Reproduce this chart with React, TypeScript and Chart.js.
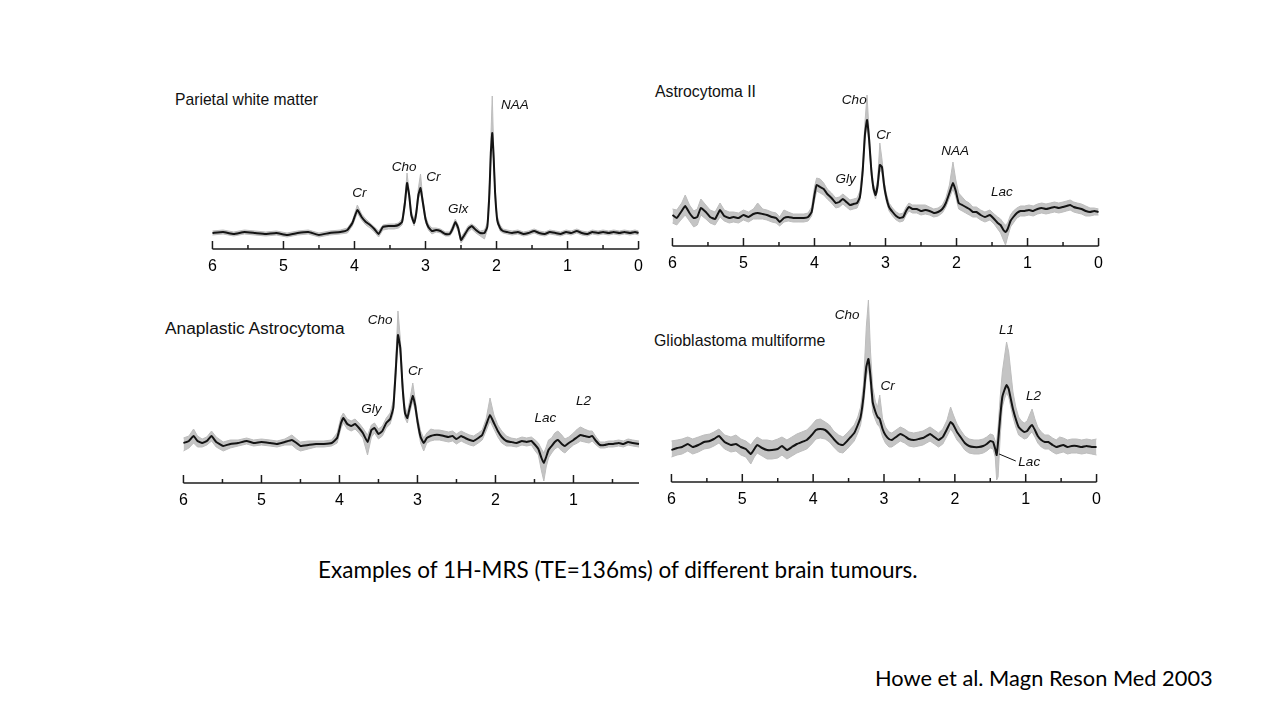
import React, { useEffect, useRef } from "react";
import { Chart, registerables } from "chart.js";

Chart.register(...registerables);

// ---------- shared axis ticks (ppm) ----------
const majorTicks = [6, 5, 4, 3, 2, 1, 0];
const minorTicks = [5.5, 4.5, 3.5, 2.5, 1.5, 0.5];

// ---------- Panel 1: Parietal white matter ----------
const pwmPpm = [6.0, 5.85, 5.7, 5.55, 5.4, 5.25, 5.1, 4.95, 4.8, 4.65, 4.5, 4.35, 4.2, 4.1, 4.03, 3.96, 3.9, 3.84, 3.78, 3.72, 3.66, 3.6, 3.52, 3.44, 3.38, 3.33, 3.29, 3.26, 3.23, 3.2, 3.16, 3.13, 3.1, 3.07, 3.04, 3.0, 2.96, 2.91, 2.85, 2.79, 2.72, 2.66, 2.62, 2.58, 2.54, 2.5, 2.46, 2.4, 2.35, 2.29, 2.23, 2.17, 2.13, 2.1, 2.08, 2.06, 2.04, 2.02, 1.99, 1.95, 1.91, 1.85, 1.78, 1.7, 1.62, 1.55, 1.47, 1.4, 1.32, 1.25, 1.17, 1.1, 1.02, 0.95, 0.87, 0.8, 0.72, 0.65, 0.57, 0.5, 0.42, 0.35, 0.27, 0.2, 0.12, 0.05, 0.0];
const pwmLine = [0, 1, -1, 1, 0, -1, 0, -2, 0, 1, -2, 0, 1, 3, 10, 23, 16, 11, 8, 4, -1, 6, 7, 7, 8, 11, 30, 50, 38, 18, 10, 20, 38, 45, 32, 14, 6, 2, 3, 2, -1, -1, 4, 11, 5, -7, -3, 4, 7, 3, 0, 0, 6, 40, 80, 100, 75, 40, 13, 5, 2, 1, 0, 1, -1, 0, 2, 0, -1, 1, 0, -1, 1, 0, 2, 0, -1, 1, 0, 1, 0, 1, 0, 1, 0, 1, 0];
const pwmHi = [2, 3, 1, 3, 2, 1, 2, 0, 2, 3, 0, 2, 3, 5, 12, 28, 19, 14, 10, 6, 2, 8, 9, 9, 10, 14, 34, 60, 42, 22, 13, 24, 45, 59, 36, 17, 9, 5, 5, 4, 1, 1, 7, 14, 8, -4, 0, 7, 9, 6, 2, 3, 10, 50, 95, 137, 85, 46, 17, 8, 4, 3, 2, 3, 1, 2, 4, 2, 1, 3, 2, 1, 3, 2, 4, 2, 1, 3, 2, 3, 2, 3, 2, 3, 2, 3, 2];
const pwmLo = [-2, -1, -3, -1, -2, -3, -2, -4, -2, -1, -4, -2, -1, 0, 7, 20, 13, 8, 5, 1, -4, 3, 4, 4, 5, 8, 26, 46, 34, 15, 7, 17, 34, 41, 28, 11, 3, -1, 1, 0, -3, -3, 1, 8, 2, -10, -6, 1, 4, 0, -3, -6, 3, 35, 75, 96, 70, 36, 10, 2, 0, -1, -2, -1, -3, -2, 0, -2, -3, -1, -2, -3, -1, -2, 0, -2, -3, -1, -2, -1, -2, -1, -2, -1, -2, -1, -2];
const pwmLabels = ["Cr", "Cho", "Cr", "Glx", "NAA"];
const pwmLabelPpm = [3.93, 3.3, 2.89, 2.54, 1.74];
const pwmLabelY = [40, 66, 56, 24, 128];

// ---------- Panel 2: Astrocytoma II ----------
const a2Ppm = [6.0, 5.94, 5.87, 5.82, 5.76, 5.7, 5.65, 5.6, 5.53, 5.47, 5.4, 5.33, 5.27, 5.2, 5.14, 5.07, 5.0, 4.93, 4.86, 4.8, 4.73, 4.67, 4.6, 4.54, 4.49, 4.43, 4.37, 4.3, 4.22, 4.15, 4.09, 4.04, 4.0, 3.97, 3.92, 3.87, 3.82, 3.76, 3.7, 3.65, 3.6, 3.55, 3.5, 3.45, 3.4, 3.36, 3.32, 3.29, 3.26, 3.23, 3.2, 3.17, 3.14, 3.11, 3.08, 3.05, 3.02, 2.99, 2.95, 2.9, 2.85, 2.8, 2.75, 2.71, 2.67, 2.62, 2.56, 2.5, 2.44, 2.38, 2.32, 2.26, 2.2, 2.15, 2.1, 2.05, 2.01, 1.97, 1.92, 1.87, 1.82, 1.77, 1.72, 1.66, 1.6, 1.53, 1.47, 1.42, 1.38, 1.34, 1.31, 1.28, 1.24, 1.2, 1.15, 1.1, 1.04, 0.98, 0.92, 0.86, 0.8, 0.74, 0.68, 0.62, 0.56, 0.5, 0.45, 0.4, 0.35, 0.3, 0.24, 0.18, 0.12, 0.06, 0.0];
const a2Line = [0, -3, 4, 9, 2, -3, -2, 7, 3, -2, -4, 5, -1, -3, -2, -3, 0, -2, 1, 2, 1, 0, -2, -3, -7, -3, -2, -3, -3, -3, -2, 3, 20, 30, 28, 26, 21, 17, 12, 13, 16, 13, 10, 11, 12, 18, 45, 80, 95, 75, 45, 27, 20, 30, 50, 48, 30, 18, 8, 3, -1, -3, -2, 4, 8, 6, 6, 4, 5, 4, 2, 3, 6, 12, 22, 32, 24, 12, 10, 8, 6, 3, 3, 0, -2, 0, -4, -8, -10, -15, -17, -14, -6, -2, 2, 4, 4, 5, 4, 6, 7, 6, 7, 8, 7, 8, 9, 10, 8, 7, 6, 4, 3, 4, 3];
const a2Hi = [6, 5, 12, 20, 10, 4, 6, 16, 10, 5, 3, 12, 5, 3, 3, 2, 5, 3, 6, 12, 6, 5, 3, 2, -2, 5, 3, 1, 1, 1, 2, 8, 28, 37, 36, 32, 26, 22, 17, 18, 21, 18, 15, 16, 17, 24, 52, 92, 120, 82, 50, 31, 24, 36, 72, 56, 35, 22, 12, 7, 3, 1, 2, 8, 12, 10, 10, 10, 10, 8, 6, 7, 10, 17, 30, 53, 35, 22, 18, 14, 12, 8, 8, 5, 3, 5, 1, -2, -4, -8, -10, -8, 0, 4, 7, 9, 9, 10, 9, 11, 12, 11, 12, 13, 12, 13, 14, 15, 13, 12, 11, 9, 7, 7, 6];
const a2Lo = [-8, -10, -4, 0, -6, -12, -10, 0, -4, -8, -10, -2, -6, -8, -7, -8, -5, -7, -4, -4, -4, -5, -7, -8, -11, -7, -6, -7, -7, -7, -6, -1, 14, 24, 22, 20, 16, 12, 7, 8, 11, 8, 5, 6, 7, 14, 40, 75, 90, 70, 40, 23, 16, 26, 45, 42, 25, 14, 4, -1, -5, -7, -6, 0, 4, 2, 2, 0, 1, 0, -2, -1, 2, 8, 17, 26, 18, 6, 4, 2, 0, -2, -2, -5, -7, -5, -9, -14, -18, -25, -30, -22, -12, -8, -3, -1, -1, 0, -1, 1, 2, 1, 2, 3, 2, 3, 4, 5, 3, 2, 1, -1, -1, 0, 0];
const a2Labels = ["Cho", "Cr", "Gly", "NAA", "Lac"];
const a2LabelPpm = [3.44, 3.03, 3.56, 2.02, 1.36];
const a2LabelY = [115, 80, 36, 64, 23];

// ---------- Panel 3: Anaplastic Astrocytoma ----------
const aaPpm = [6.0, 5.93, 5.87, 5.82, 5.76, 5.7, 5.64, 5.58, 5.49, 5.4, 5.3, 5.19, 5.1, 5.0, 4.89, 4.8, 4.7, 4.61, 4.55, 4.5, 4.4, 4.3, 4.2, 4.1, 4.03, 3.98, 3.95, 3.9, 3.85, 3.8, 3.75, 3.7, 3.64, 3.59, 3.55, 3.5, 3.45, 3.4, 3.35, 3.31, 3.28, 3.25, 3.22, 3.19, 3.16, 3.13, 3.1, 3.06, 3.03, 3.0, 2.96, 2.92, 2.88, 2.83, 2.78, 2.72, 2.66, 2.6, 2.55, 2.5, 2.44, 2.39, 2.33, 2.28, 2.22, 2.17, 2.12, 2.07, 2.02, 1.97, 1.92, 1.86, 1.8, 1.73, 1.66, 1.6, 1.54, 1.49, 1.45, 1.41, 1.38, 1.35, 1.32, 1.28, 1.24, 1.2, 1.15, 1.11, 1.06, 1.0, 0.95, 0.91, 0.86, 0.8, 0.76, 0.71, 0.66, 0.6, 0.55, 0.49, 0.42, 0.36, 0.3, 0.24, 0.16];
const aaLine = [0, 2, 7, 2, 0, 2, 7, 1, -3, -1, 0, 2, 0, 1, 0, -1, 1, 3, 0, -3, -2, -1, -1, 0, 5, 20, 25, 19, 17, 19, 15, 10, 1, 13, 15, 9, 12, 20, 24, 35, 70, 108, 95, 55, 30, 25, 35, 47, 38, 22, 6, 0, 5, 7, 8, 8, 7, 6, 7, 4, 7, 5, 3, 2, 5, 8, 18, 28, 20, 12, 6, 2, 1, 0, 2, 1, 2, -2, -6, -15, -20, -14, -7, -3, 1, 3, -1, -3, 0, 3, 6, 8, 7, 6, 7, 2, -2, -2, -1, -1, 0, -1, 1, 0, -1];
const aaHi = [5, 7, 14, 7, 4, 6, 12, 6, 1, 3, 3, 5, 3, 4, 3, 2, 4, 8, 4, 1, 2, 2, 2, 3, 10, 26, 30, 24, 22, 24, 20, 15, 8, 18, 20, 14, 17, 25, 30, 42, 80, 132, 105, 62, 36, 30, 42, 60, 44, 27, 12, 5, 10, 14, 13, 13, 12, 11, 12, 9, 12, 10, 8, 7, 10, 13, 24, 45, 28, 18, 12, 7, 5, 4, 6, 5, 6, 3, 0, -6, -10, -4, 3, 5, 10, 12, 8, 4, 6, 10, 14, 16, 14, 12, 12, 6, 1, 1, 2, 2, 3, 2, 4, 3, 2];
const aaLo = [-8, -5, 0, -4, -4, -2, 2, -4, -8, -5, -3, -1, -3, -2, -3, -4, -2, -2, -6, -8, -6, -4, -4, -3, 0, 15, 20, 14, 12, 14, 10, 5, -12, 6, 10, 4, 7, 15, 19, 30, 65, 102, 88, 50, 25, 20, 30, 42, 33, 17, 0, -8, 0, 2, 3, 3, 2, 1, 2, -1, 2, 0, -2, -3, 0, 3, 12, 22, 14, 6, 0, -3, -3, -4, -2, -3, -2, -8, -12, -28, -38, -24, -15, -10, -6, -4, -8, -10, -6, -2, 0, 2, 1, 0, 2, -2, -5, -5, -4, -4, -3, -4, -2, -3, -4];
const aaLabels = ["Cho", "Cr", "Gly", "Lac", "L2"];
const aaLabelPpm = [3.48, 3.03, 3.59, 1.36, 0.87];
const aaLabelY = [123, 72, 34, 25, 42];

// ---------- Panel 4: Glioblastoma multiforme ----------
const gbmPpm = [6.0, 5.92, 5.85, 5.77, 5.7, 5.62, 5.54, 5.46, 5.4, 5.33, 5.25, 5.16, 5.09, 5.02, 4.95, 4.88, 4.83, 4.79, 4.72, 4.65, 4.58, 4.5, 4.44, 4.37, 4.3, 4.23, 4.16, 4.09, 4.02, 3.96, 3.9, 3.83, 3.77, 3.71, 3.64, 3.58, 3.52, 3.47, 3.42, 3.37, 3.33, 3.29, 3.25, 3.22, 3.19, 3.16, 3.12, 3.09, 3.06, 3.02, 2.98, 2.93, 2.89, 2.83, 2.77, 2.71, 2.65, 2.58, 2.51, 2.45, 2.4, 2.35, 2.29, 2.23, 2.17, 2.11, 2.06, 2.02, 1.97, 1.92, 1.86, 1.8, 1.73, 1.66, 1.6, 1.55, 1.5, 1.46, 1.43, 1.41, 1.39, 1.36, 1.33, 1.3, 1.27, 1.24, 1.21, 1.18, 1.14, 1.1, 1.06, 1.02, 0.98, 0.94, 0.91, 0.87, 0.83, 0.78, 0.73, 0.68, 0.62, 0.57, 0.52, 0.47, 0.41, 0.35, 0.28, 0.21, 0.14, 0.07, 0.0];
const gbmLine = [-3, -1, 0, 3, 0, 2, 5, 6, 8, 11, 5, 2, 3, 0, -2, -7, -2, 2, -1, -3, -3, -2, 1, -3, 0, 3, 5, 7, 12, 17, 18, 17, 13, 8, 3, 2, 6, 10, 14, 22, 30, 50, 80, 88, 70, 45, 35, 30, 28, 18, 12, 8, 7, 10, 13, 11, 8, 7, 8, 9, 11, 13, 10, 7, 10, 18, 25, 22, 15, 10, 4, 1, 0, 0, 1, 3, 6, 5, -2, -8, 5, 30, 50, 57, 62, 58, 48, 38, 28, 20, 17, 15, 16, 20, 22, 17, 11, 7, 5, 5, 2, 0, 1, 2, 0, 1, 1, 0, 1, 0, 0];
const gbmHi = [6, 7, 8, 10, 8, 10, 12, 13, 15, 18, 12, 10, 12, 8, 6, 2, 7, 10, 7, 7, 6, 8, 10, 7, 10, 13, 15, 17, 22, 27, 28, 25, 22, 16, 12, 10, 14, 18, 22, 30, 40, 62, 120, 147, 95, 60, 45, 40, 52, 28, 20, 15, 14, 17, 20, 18, 15, 14, 15, 16, 18, 20, 17, 14, 18, 27, 40, 32, 23, 17, 11, 8, 7, 7, 8, 10, 13, 12, 6, 5, 20, 50, 75, 90, 105, 95, 75, 55, 40, 30, 26, 24, 26, 33, 38, 28, 20, 15, 12, 12, 9, 7, 10, 9, 7, 8, 8, 7, 8, 7, 8];
const gbmLo = [-10, -8, -7, -4, -7, -5, -2, -1, 1, 4, -2, -5, -4, -8, -10, -17, -10, -6, -9, -12, -12, -11, -8, -12, -9, -6, -4, -2, 3, 8, 9, 8, 5, 0, -5, -6, -2, 2, 6, 14, 22, 40, 70, 80, 60, 35, 27, 22, 20, 10, 4, 0, 0, 3, 6, 4, 1, 0, 1, 2, 4, 6, 3, 0, 3, 11, 18, 14, 7, 3, -3, -6, -7, -7, -6, -4, -1, -2, -10, -33, -30, 10, 40, 48, 54, 50, 40, 30, 20, 12, 10, 8, 9, 13, 15, 10, 4, 0, -2, -2, -5, -7, -6, -5, -7, -6, -6, -7, -6, -7, -8];
const gbmLabels = ["Cho", "Cr", "L1", "L2", "Lac"];
const gbmLabelPpm = [3.52, 2.95, 1.27, 0.89, 0.95];
const gbmLabelY = [132, 61, 117, 51, -15];
const gbmLeaderPpm = [1.375, 1.14];
const gbmLeaderY = [-7, -14];

// ---------- text ----------
const caption = "Examples of 1H-MRS (TE=136ms) of different brain tumours.";
const citation = "Howe et al. Magn Reson Med 2003";

type PanelDef = {
  title: string;
  titleLeft: number;
  titleTop: number;
  titleSize: number;
  ppm: number[];
  line: number[];
  hi: number[];
  lo: number[];
  labels: string[];
  labelPpm: number[];
  labelY: number[];
  leaderPpm?: number[];
  leaderY?: number[];
  xMin: number;
  yMin: number;
  yMax: number;
  left: number;
  right: number;
  top: number;
  axisY: number;
};

const PAD = 12;
const AXIS_H = 30;

function Panel(p: PanelDef) {
  const ref = useRef<HTMLCanvasElement>(null);
  const width = p.right - p.left + PAD * 2;
  const height = p.axisY - p.top + AXIS_H;

  useEffect(() => {
    if (!ref.current) return;
    const majors = majorTicks.filter((v) => v >= p.xMin);
    const minors = minorTicks.filter((v) => v >= p.xMin);

    const axisPlugin = {
      id: "mrsAxis",
      afterDraw(chart: any) {
        const { ctx, chartArea } = chart;
        const x = chart.scales.x;
        const y0 = chartArea.bottom;
        ctx.save();
        ctx.strokeStyle = "#1c1c1c";
        ctx.lineWidth = 1.7;
        ctx.beginPath();
        ctx.moveTo(x.getPixelForValue(6), y0);
        ctx.lineTo(x.getPixelForValue(p.xMin), y0);
        ctx.stroke();
        ctx.lineWidth = 1.5;
        majors.forEach((v) => {
          const px = x.getPixelForValue(v);
          ctx.beginPath();
          ctx.moveTo(px, y0);
          ctx.lineTo(px, y0 - 8);
          ctx.stroke();
        });
        minors.forEach((v) => {
          const px = x.getPixelForValue(v);
          ctx.beginPath();
          ctx.moveTo(px, y0);
          ctx.lineTo(px, y0 - 4);
          ctx.stroke();
        });
        ctx.restore();
      },
    };

    const labelPlugin = {
      id: "peakLabels",
      afterDatasetsDraw(chart: any) {
        const { ctx } = chart;
        const x = chart.scales.x;
        const y = chart.scales.y;
        ctx.save();
        ctx.fillStyle = "#111";
        ctx.font = "italic 13.5px 'Liberation Sans', Arial, sans-serif";
        ctx.textAlign = "center";
        ctx.textBaseline = "middle";
        p.labels.forEach((t, i) => {
          ctx.fillText(t, x.getPixelForValue(p.labelPpm[i]), y.getPixelForValue(p.labelY[i]));
        });
        if (p.leaderPpm && p.leaderY) {
          ctx.strokeStyle = "#111";
          ctx.lineWidth = 1;
          ctx.beginPath();
          ctx.moveTo(x.getPixelForValue(p.leaderPpm[0]), y.getPixelForValue(p.leaderY[0]));
          ctx.lineTo(x.getPixelForValue(p.leaderPpm[1]), y.getPixelForValue(p.leaderY[1]));
          ctx.stroke();
        }
        ctx.restore();
      },
    };

    const chart = new Chart(ref.current, {
      type: "line",
      data: {
        datasets: [
          {
            data: p.ppm.map((v, i) => ({ x: v, y: p.line[i] })),
            borderColor: "#141414",
            borderWidth: 2,
            pointRadius: 0,
            tension: 0.12,
            fill: false,
            clip: false,
          } as any,
          {
            data: p.ppm.map((v, i) => ({ x: v, y: p.hi[i] })),
            borderColor: "#bdbdbd",
            borderWidth: 1,
            pointRadius: 0,
            tension: 0,
            fill: false,
            clip: false,
          },
          {
            data: p.ppm.map((v, i) => ({ x: v, y: p.lo[i] })),
            borderColor: "#bdbdbd",
            backgroundColor: "#c4c4c4",
            borderWidth: 1,
            pointRadius: 0,
            tension: 0,
            fill: "-1",
            clip: false,
          },
        ],
      },
      options: {
        animation: false,
        responsive: false,
        maintainAspectRatio: false,
        events: [],
        layout: { padding: { left: PAD, right: PAD, top: 0, bottom: 0 } },
        plugins: {
          legend: { display: false },
          tooltip: { enabled: false },
          title: { display: false },
        },
        scales: {
          x: {
            type: "linear",
            reverse: true,
            min: p.xMin,
            max: 6,
            afterBuildTicks: (s: any) => {
              s.ticks = majors.map((v) => ({ value: v }));
            },
            afterFit: (s: any) => {
              s.height = AXIS_H;
            },
            grid: { display: false, drawTicks: false },
            border: { display: false },
            ticks: {
              autoSkip: false,
              maxRotation: 0,
              padding: 8,
              color: "#000",
              font: { family: "'Liberation Sans', Arial, sans-serif", size: 16 },
              callback: (v: any) => String(v),
            },
          },
          y: { display: false, min: p.yMin, max: p.yMax },
        },
      } as any,
      plugins: [axisPlugin, labelPlugin],
    });
    return () => chart.destroy();
  }, []);

  return (
    <>
      <div
        style={{
          position: "absolute",
          left: p.titleLeft,
          top: p.titleTop - p.titleSize / 2,
          fontFamily: "'Liberation Sans', Arial, sans-serif",
          fontSize: p.titleSize,
          lineHeight: 1,
          color: "#111",
          whiteSpace: "nowrap",
        }}
      >
        {p.title}
      </div>
      <canvas
        ref={ref}
        width={width}
        height={height}
        style={{ position: "absolute", left: p.left - PAD, top: p.top, width, height }}
      />
    </>
  );
}

const panels: PanelDef[] = [
  {
    title: "Parietal white matter", titleLeft: 175, titleTop: 100, titleSize: 15.7,
    ppm: pwmPpm, line: pwmLine, hi: pwmHi, lo: pwmLo,
    labels: pwmLabels, labelPpm: pwmLabelPpm, labelY: pwmLabelY,
    xMin: 0, yMin: -16, yMax: 143, left: 212, right: 639, top: 90, axisY: 249,
  },
  {
    title: "Astrocytoma II", titleLeft: 655, titleTop: 92, titleSize: 15.8,
    ppm: a2Ppm, line: a2Line, hi: a2Hi, lo: a2Lo,
    labels: a2Labels, labelPpm: a2LabelPpm, labelY: a2LabelY,
    xMin: 0, yMin: -31, yMax: 130, left: 672, right: 1099, top: 85, axisY: 246,
  },
  {
    title: "Anaplastic Astrocytoma", titleLeft: 165, titleTop: 329, titleSize: 17.3,
    ppm: aaPpm, line: aaLine, hi: aaHi, lo: aaLo,
    labels: aaLabels, labelPpm: aaLabelPpm, labelY: aaLabelY,
    xMin: 0.16, yMin: -40, yMax: 133, left: 183, right: 639, top: 310, axisY: 483,
  },
  {
    title: "Glioblastoma multiforme", titleLeft: 654, titleTop: 341, titleSize: 15.9,
    ppm: gbmPpm, line: gbmLine, hi: gbmHi, lo: gbmLo,
    labels: gbmLabels, labelPpm: gbmLabelPpm, labelY: gbmLabelY,
    leaderPpm: gbmLeaderPpm, leaderY: gbmLeaderY,
    xMin: 0, yMin: -35, yMax: 147, left: 671, right: 1097, top: 300, axisY: 482,
  },
];

export default function App() {
  return (
    <div
      style={{
        position: "absolute",
        left: 0,
        top: 0,
        width: 1280,
        height: 720,
        background: "#fff",
        overflow: "hidden",
      }}
    >
      {panels.map((p, i) => (
        <Panel key={i} {...p} />
      ))}
      <div
        style={{
          position: "absolute",
          left: 318,
          top: 570 - 12,
          fontFamily: "Lato, 'Open Sans', sans-serif",
          fontSize: 22.5,
          lineHeight: "24px",
          color: "#000",
          whiteSpace: "nowrap",
        }}
      >
        {caption}
      </div>
      <div
        style={{
          position: "absolute",
          left: 875,
          top: 678 - 12,
          fontFamily: "Lato, 'Open Sans', sans-serif",
          fontSize: 21.8,
          lineHeight: "24px",
          color: "#000",
          whiteSpace: "nowrap",
        }}
      >
        {citation}
      </div>
    </div>
  );
}
